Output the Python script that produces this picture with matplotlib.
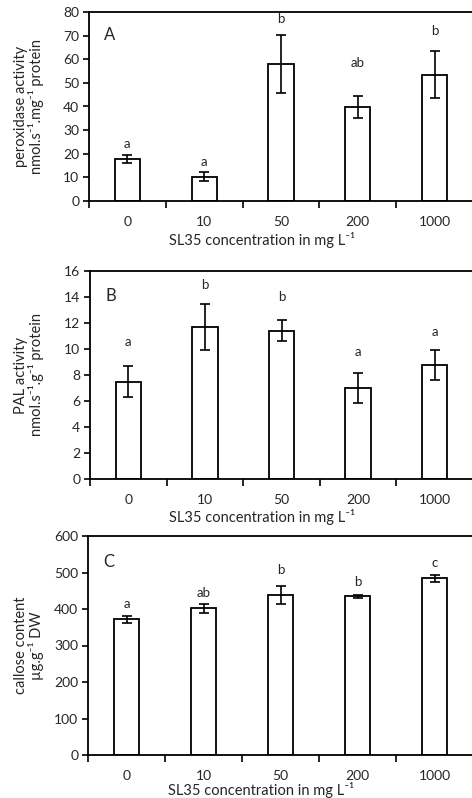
import matplotlib
matplotlib.use("Agg")
import matplotlib.pyplot as plt
import matplotlib.transforms as mtransforms

plt.rcParams['font.family'] = ['Lato', 'DejaVu Sans']

SUP = "\u207b\u00b9"  # superscript -1

# SL35 doses (mg L-1)
concentrations = ["0", "10", "50", "200", "1000"]

# A: peroxidase activity
perox_mean = [17.8, 10.3, 58.0, 39.7, 53.5]
perox_err = [1.6, 2.0, 12.1, 4.7, 9.8]
perox_letters = ["a", "a", "b", "ab", "b"]
perox_letter_y = [24.0, 16.5, 77.0, 58.5, 72.0]

# B: PAL activity
pal_mean = [7.5, 11.7, 11.4, 7.0, 8.75]
pal_err = [1.2, 1.8, 0.8, 1.15, 1.15]
pal_letters = ["a", "b", "b", "a", "a"]
pal_letter_y = [10.5, 14.9, 14.0, 9.8, 11.3]

# C: callose content
callose_mean = [371.5, 401.5, 439.0, 434.5, 484.5]
callose_err = [10.0, 12.0, 24.0, 3.0, 10.0]
callose_letters = ["a", "ab", "b", "b", "c"]
callose_letter_y = [413, 444, 506, 475, 526]

W, H = 472, 798
fig = plt.figure(figsize=(W / 100, H / 100), dpi=100)
TXT = "#262626"


def px_axes(left, top, bottom, right=473):
    return fig.add_axes([left / W, 1 - bottom / H, (right - left) / W, (bottom - top) / H])


def panel(ax, means, errs, letters, letter_y, ymax, ystep, tag, ylabel, xlab_drop):
    xs = list(range(len(concentrations)))
    ax.bar(xs, means, width=0.33, color="white", edgecolor="black", linewidth=1.3, zorder=2)
    ax.errorbar(xs, means, yerr=errs, fmt="none", ecolor="black", elinewidth=1.2,
                capsize=3.5, capthick=1.2, zorder=3)
    for x, lab, ly in zip(xs, letters, letter_y):
        ax.text(x, ly, lab, ha="center", va="center", fontsize=9.5, color=TXT)
    ax.set_xlim(-0.5, 4.5)
    ax.set_ylim(0, ymax)
    ax.set_yticks([ystep * i for i in range(int(ymax / ystep) + 1)])
    # boundaries carry tick marks, category centres carry labels
    ax.set_xticks([i - 0.5 for i in range(6)])
    ax.set_xticklabels([])
    ax.set_xticks(xs, minor=True)
    ax.set_xticklabels(concentrations, minor=True)
    ax.tick_params(axis="x", which="major", direction="out", length=5, width=1.2)
    ax.tick_params(axis="x", which="minor", length=0, pad=11, labelsize=10, labelcolor=TXT)
    ax.tick_params(axis="y", direction="out", length=4, width=1.2, pad=3, labelsize=10,
                   labelcolor=TXT)
    for s in ("left", "bottom", "top"):
        ax.spines[s].set_linewidth(1.3)
    ax.spines["right"].set_visible(False)
    ax.text(0.04, 0.88, tag, transform=ax.transAxes, fontsize=12, ha="left", va="center",
            color=TXT)
    # x-axis title, placed a fixed number of pixels below the axis
    base = mtransforms.blended_transform_factory(ax.transData, ax.transAxes)
    drop = mtransforms.ScaledTranslation(0, -xlab_drop / 100, fig.dpi_scale_trans)
    ax.text(1.75, 0, "SL35 concentration in mg L" + SUP, transform=base + drop,
            ha="center", va="center", fontsize=10.5, color=TXT)
    pos = ax.get_position()
    fig.text(29 / W, 0.5 * (pos.y0 + pos.y1), ylabel, rotation=90, ha="center",
             va="center", fontsize=10.5, color=TXT, linespacing=1.05)


axA = px_axes(89, 12, 201)
panel(axA, perox_mean, perox_err, perox_letters, perox_letter_y, 80, 10, "A",
      "peroxidase activity\nnmol.s" + SUP + ".mg" + SUP + " protein", 39)

axB = px_axes(90, 271, 479)
panel(axB, pal_mean, pal_err, pal_letters, pal_letter_y, 16, 2, "B",
      "PAL activity\nnmol.s" + SUP + ".g" + SUP + " protein", 38)

axC = px_axes(88, 536, 755)
panel(axC, callose_mean, callose_err, callose_letters, callose_letter_y, 600, 100, "C",
      "callose content\n\u00b5g.g" + SUP + " DW", 35)

fig.savefig("out.png", dpi=100, facecolor="white")
